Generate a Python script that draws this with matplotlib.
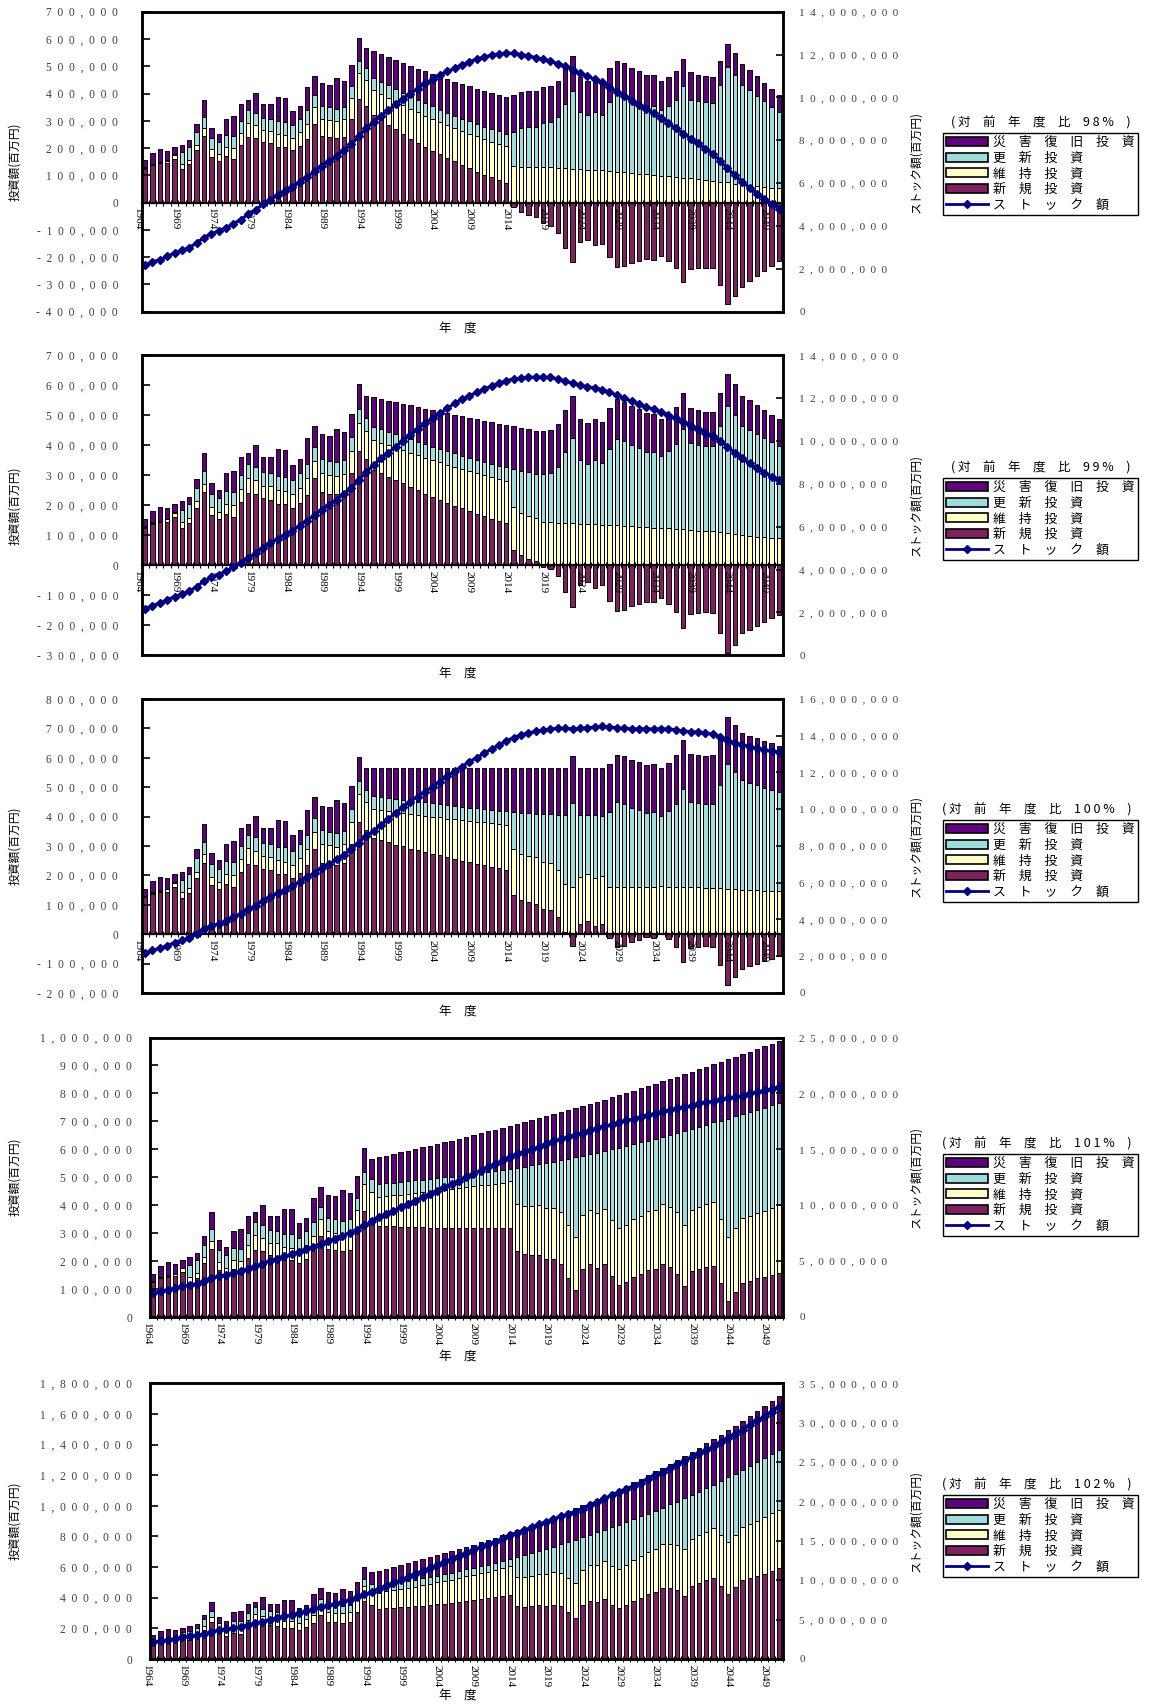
import numpy as np
import matplotlib
matplotlib.use('Agg')
import matplotlib.pyplot as plt
from matplotlib.patches import Patch
from matplotlib.lines import Line2D

JP = ['Noto Sans CJK JP', 'DejaVu Sans']
NUM = 'Liberation Serif'

# ---- actual values 1965-1995 (same in every scenario), bars in thousand 百万円 ----
hist_new = [125, 138, 144, 145, 161, 124, 140, 192, 243, 168, 153, 171, 161, 210, 240,
            237, 223, 217, 204, 204, 192, 209, 235, 290, 243, 239, 237, 241, 308, 380, 354]
hist_maint = [3, 3, 3, 8, 14, 19, 17, 21, 29, 27, 24, 33, 40, 46, 52,
              47, 42, 46, 47, 43, 45, 50, 55, 59, 65, 63, 61, 65, 74, 96, 94]
hist_renew = [2, 2, 2, 2, 2, 42, 47, 45, 42, 43, 46, 44, 44, 44, 47,
              45, 46, 45, 47, 49, 47, 48, 49, 45, 46, 47, 47, 45, 45, 44, 44]
hist_disaster = [25, 39, 46, 36, 27, 28, 24, 31, 61, 37, 28, 60, 71, 61, 36,
                 73, 49, 54, 90, 89, 52, 48, 85, 72, 83, 83, 111, 94, 77, 83, 74]
# stock in million 百万円
hist_stock = [2.16, 2.32, 2.43, 2.58, 2.74, 2.86, 2.99, 3.21, 3.46, 3.64, 3.77, 3.92, 4.11, 4.30, 4.55,
              4.76, 5.01, 5.23, 5.43, 5.62, 5.82, 6.04, 6.29, 6.55, 6.80, 7.02, 7.27, 7.53, 7.81, 8.19, 8.55]

# renewal 1996-2044 is the same in all scenarios
renew_1996_2044 = [45, 45, 45, 45, 45, 45, 45, 45, 45, 45, 45, 45, 45, 45, 45, 45, 45, 45, 46,
                   127, 140, 146, 147, 163, 166, 187, 237, 285, 211, 199, 215, 205, 254, 287, 282,
                   269, 262, 251, 253, 239, 257, 284, 335, 289, 286, 284, 286, 353, 424]

# ---- scenario 98% (1996-2051) ----
new_98 = [321, 303, 286, 269, 252, 235, 219, 204, 191, 177, 164, 151, 138, 126, 114, 103, 93, 84, 73,
          -15, -35, -47, -53, -76, -85, -110, -166, -216, -146, -138, -157, -151, -201, -236, -233,
          -220, -215, -205, -210, -195, -214, -241, -291, -245, -241, -239, -240, -303, -372,
          -343, -308, -288, -269, -250, -231, -213]
maint_98 = [92, 96, 99, 102, 106, 109, 112, 115, 117, 119, 121, 123, 125, 127, 129, 130, 131, 132, 134,
            133, 132, 131, 130, 130, 129, 127, 126, 124, 122, 121, 119, 118, 115, 113, 111, 108, 106,
            104, 102, 99, 97, 94, 91, 89, 86, 84, 81, 77, 74, 70, 67, 64, 61, 58, 55, 53]
renew_98_tail = [398, 366, 348, 331, 314, 297, 280]
disaster_98 = [97, 100, 103, 106, 109, 112, 115, 117, 119, 121, 123, 125, 127, 128, 130, 131, 132, 132, 133,
               133, 133, 133, 132, 132, 132, 131, 131, 129, 128, 127, 126, 125, 123, 121, 119, 117, 115,
               113, 112, 109, 107, 105, 102, 100, 97, 95, 92, 88, 84, 81, 77, 74, 71, 68, 65, 63]
stock_98 = [8.86, 9.12, 9.40, 9.67, 9.93, 10.18, 10.41, 10.65, 10.85, 11.04, 11.21, 11.36, 11.52, 11.66,
            11.79, 11.89, 11.97, 12.03, 12.07, 12.05, 12.00, 11.94, 11.86, 11.79, 11.69, 11.58, 11.46,
            11.27, 11.12, 10.99, 10.85, 10.70, 10.49, 10.27, 10.06, 9.85, 9.65, 9.45, 9.25, 9.03, 8.81,
            8.56, 8.31, 8.08, 7.85, 7.61, 7.38, 7.04, 6.69, 6.37, 6.06, 5.79, 5.51, 5.26, 5.04, 4.81]

# ---- scenario 99% ----
new_99 = [319, 308, 296, 285, 273, 262, 251, 239, 228, 219, 208, 199, 190, 181, 172, 163, 156, 147, 141,
          52, 34, 22, 16, -4, -12, -35, -88, -138, -66, -56, -75, -67, -118, -153, -148, -137, -130,
          -121, -123, -110, -128, -157, -208, -161, -158, -156, -159, -224, -292,
          -264, -227, -215, -201, -189, -176, -165]
maint_99 = [98, 101, 104, 107, 110, 113, 116, 119, 122, 124, 127, 129, 131, 133, 135, 137, 138, 140, 141,
            142, 142, 143, 143, 143, 143, 142, 141, 140, 139, 138, 137, 136, 135, 134, 132, 131, 129,
            128, 126, 125, 123, 122, 120, 118, 116, 114, 113, 110, 107, 104, 101, 99, 96, 94, 92, 90]
renew_99_tail = [398, 364, 353, 341, 330, 318, 307]
disaster_99 = [98, 101, 104, 107, 110, 113, 116, 119, 122, 124, 127, 129, 131, 133, 135, 137, 138, 140, 141,
               142, 142, 143, 143, 143, 143, 142, 141, 140, 139, 138, 137, 136, 135, 134, 132, 131, 129,
               128, 126, 125, 123, 122, 120, 118, 116, 114, 113, 110, 107, 104, 101, 99, 96, 94, 92, 90]
stock_99 = [8.88, 9.19, 9.46, 9.74, 10.02, 10.28, 10.56, 10.83, 11.06, 11.29, 11.53, 11.76, 11.95, 12.12,
            12.27, 12.43, 12.57, 12.69, 12.82, 12.90, 12.94, 12.97, 12.99, 12.99, 12.97, 12.91, 12.80,
            12.69, 12.62, 12.54, 12.48, 12.40, 12.29, 12.15, 11.99, 11.87, 11.74, 11.60, 11.48, 11.36,
            11.22, 11.06, 10.87, 10.70, 10.55, 10.39, 10.24, 10.02, 9.74, 9.46, 9.19, 8.96, 8.73, 8.52,
            8.34, 8.18]

# ---- scenario 100% ----
new_100 = [327, 320, 313, 305, 299, 291, 286, 280, 274, 268, 261, 256, 250, 244, 240, 234, 229, 224, 219,
           133, 116, 108, 104, 86, 81, 59, 9, -39, 34, 44, 28, 35, -12, -45, -40, -26, -20, -9, -12,
           2, -16, -43, -93, -47, -43, -41, -42, -106, -174, -145, -117, -108, -100, -90, -83, -74]
maint_100 = [99, 102, 106, 110, 113, 117, 120, 123, 126, 129, 132, 135, 138, 141, 143, 146, 149, 151, 154,
             156, 157, 158, 159, 160, 161, 161, 161, 161, 161, 162, 162, 163, 162, 162, 161, 161, 161,
             161, 161, 161, 161, 160, 160, 159, 159, 158, 158, 156, 154, 153, 151, 150, 149, 148, 148, 147]
renew_100_tail = [398, 372, 365, 358, 350, 344, 336]
disaster_100 = [95, 99, 102, 106, 109, 113, 115, 118, 121, 124, 128, 130, 133, 136, 138, 141, 143, 146, 148,
                150, 153, 154, 156, 157, 158, 159, 159, 159, 160, 161, 161, 163, 162, 162, 163, 162, 163,
                163, 164, 164, 164, 165, 164, 165, 164, 165, 164, 163, 162, 160, 160, 159, 159, 158, 157, 157]
stock_100 = [8.82, 9.14, 9.47, 9.80, 10.12, 10.42, 10.69, 10.96, 11.23, 11.50, 11.81, 12.08, 12.32, 12.59,
             12.81, 13.04, 13.28, 13.49, 13.71, 13.90, 14.04, 14.15, 14.24, 14.31, 14.37, 14.40, 14.40,
             14.37, 14.40, 14.44, 14.47, 14.51, 14.47, 14.44, 14.40, 14.38, 14.37, 14.37, 14.37, 14.37,
             14.37, 14.33, 14.26, 14.22, 14.19, 14.15, 14.08, 13.95, 13.77, 13.62, 13.50, 13.41, 13.31,
             13.23, 13.17, 13.10]

# ---- scenario 101% ----
new_101 = [327, 325, 324, 323, 323, 322, 321, 320, 320, 319, 318, 318, 318, 318, 318, 317, 317, 317, 318,
           235, 225, 221, 223, 208, 206, 188, 141, 96, 173, 189, 174, 188, 145, 115, 124, 143, 154, 168,
           171, 190, 178, 155, 110, 163, 171, 179, 184, 121, 57, 90, 122, 129, 138, 143, 151, 158]
maint_101 = [104, 108, 111, 115, 118, 122, 125, 129, 132, 136, 139, 143, 146, 150, 153, 157, 160, 164, 167,
             171, 173, 176, 178, 181, 184, 186, 188, 191, 193, 195, 198, 200, 201, 204, 206, 207, 209,
             212, 213, 215, 216, 219, 220, 221, 223, 225, 226, 228, 229, 230, 232, 234, 235, 238, 239, 241]
renew_101_tail = [398, 372, 370, 369, 368, 368, 367]
disaster_101 = [96, 99, 103, 106, 109, 112, 116, 119, 122, 125, 129, 132, 135, 138, 141, 145, 148, 151, 154,
                158, 160, 162, 164, 167, 170, 172, 174, 176, 178, 180, 183, 185, 186, 188, 190, 191, 193,
                195, 197, 199, 200, 202, 203, 204, 206, 207, 208, 211, 212, 213, 214, 216, 217, 219, 220, 222]
stock_101 = [8.9, 9.2, 9.5, 9.8, 10.1, 10.4, 10.7, 11.0, 11.3, 11.6, 11.9, 12.2, 12.5, 12.8, 13.1, 13.4,
             13.7, 14.0, 14.3, 14.6, 14.8, 15.0, 15.2, 15.5, 15.7, 15.9, 16.1, 16.3, 16.5, 16.7, 16.9,
             17.1, 17.2, 17.4, 17.6, 17.7, 17.9, 18.1, 18.2, 18.4, 18.5, 18.7, 18.8, 18.9, 19.1, 19.2,
             19.3, 19.5, 19.6, 19.7, 19.8, 20.0, 20.1, 20.3, 20.4, 20.6]

# ---- scenario 102% ----
new_102 = [327, 330, 335, 338, 341, 343, 348, 353, 357, 362, 367, 372, 379, 384, 391, 396, 405, 411, 419,
           346, 341, 345, 353, 347, 353, 344, 306, 270, 355, 377, 373, 393, 355, 336, 353, 380, 401, 423,
           436, 463, 462, 448, 414, 475, 494, 514, 529, 479, 426, 468, 513, 527, 540, 557, 574, 592]
maint_102 = [107, 112, 115, 120, 125, 130, 134, 138, 143, 148, 152, 157, 161, 166, 170, 175, 179, 184, 188,
             192, 197, 200, 205, 209, 214, 217, 221, 224, 229, 234, 239, 245, 250, 254, 259, 264, 269,
             275, 280, 286, 290, 296, 301, 307, 313, 318, 324, 330, 336, 343, 349, 356, 364, 370, 377, 384]
renew_102_tail = [398, 372, 375, 380, 383, 386, 388]
disaster_102 = [98, 102, 106, 110, 114, 119, 123, 127, 131, 135, 140, 144, 147, 152, 156, 161, 164, 168, 173,
                176, 180, 184, 188, 191, 196, 199, 202, 206, 210, 215, 219, 224, 229, 233, 238, 242, 246,
                252, 256, 262, 266, 272, 276, 282, 287, 292, 297, 303, 308, 315, 320, 327, 333, 339, 345, 352]
stock_102 = [8.9, 9.3, 9.6, 10.0, 10.4, 10.8, 11.2, 11.5, 11.9, 12.3, 12.7, 13.1, 13.4, 13.8, 14.2, 14.6,
             14.9, 15.3, 15.7, 16.0, 16.4, 16.7, 17.1, 17.4, 17.8, 18.1, 18.4, 18.7, 19.1, 19.5, 19.9,
             20.4, 20.8, 21.2, 21.6, 22.0, 22.4, 22.9, 23.3, 23.8, 24.2, 24.7, 25.1, 25.6, 26.1, 26.5,
             27.0, 27.5, 28.0, 28.6, 29.1, 29.7, 30.3, 30.8, 31.4, 32.0]

years = np.arange(1965, 2052)
label_years = list(range(1964, 2050, 5))
legend_labels = ['災　害　復　旧　投　資', '更　新　投　資', '維　持　投　資', '新　規　投　資', 'ス　ト　ッ　ク　額']

c_dis = '#600080'
c_ren = '#9FDCDC'
c_mnt = '#FFFFC8'
c_new = '#802060'
c_line = '#000080'
c_tick = '#404040'

W, H = 1152, 1704
fig = plt.figure(figsize=(W / 100, H / 100), dpi=100)

panels = [
    dict(rate='9 8', new=new_98, maint=maint_98, tail=renew_98_tail, dis=disaster_98, stock=stock_98,
         box=(141.7, 11.7, 782.7, 311.7), ylim=(-400000, 700000), ystep=100000, rmax=14000000, rstep=2000000,
         xlab=328, leg=133, pad=17, tx=951),
    dict(rate='9 9', new=new_99, maint=maint_99, tail=renew_99_tail, dis=disaster_99, stock=stock_99,
         box=(141.7, 355.4, 782.7, 655.3), ylim=(-300000, 700000), ystep=100000, rmax=14000000, rstep=2000000,
         xlab=673, leg=478, pad=17, tx=951),
    dict(rate='1 0 0', new=new_100, maint=maint_100, tail=renew_100_tail, dis=disaster_100, stock=stock_100,
         box=(141.7, 699, 782.7, 993), ylim=(-200000, 800000), ystep=100000, rmax=16000000, rstep=2000000,
         xlab=1011, leg=820, pad=17, tx=942),
    dict(rate='1 0 1', new=new_101, maint=maint_101, tail=renew_101_tail, dis=disaster_101, stock=stock_101,
         box=(150, 1037.5, 782.7, 1317), ylim=(0, 1000000), ystep=100000, rmax=25000000, rstep=5000000,
         xlab=1356, leg=1154, pad=13, tx=942),
    dict(rate='1 0 2', new=new_102, maint=maint_102, tail=renew_102_tail, dis=disaster_102, stock=stock_102,
         box=(150, 1383.3, 782.7, 1659), ylim=(0, 1800000), ystep=200000, rmax=35000000, rstep=5000000,
         xlab=1695, leg=1495, pad=13, tx=942),
]


def spaced(v):
    # excel-style wide letter spacing, e.g. "7  0  0  ,  0  0  0"
    return '  '.join(f'{int(v):,}')


for p in panels:
    l, t, r, b = p['box']
    ax = fig.add_axes([l / W, 1 - b / H, (r - l) / W, (b - t) / H])

    new = np.array(hist_new + p['new']) * 1000
    maint = np.array(hist_maint + p['maint']) * 1000
    renew = np.array(hist_renew + renew_1996_2044 + p['tail']) * 1000
    dis = np.array(hist_disaster + p['dis']) * 1000
    stock = np.array(hist_stock + p['stock']) * 1e6

    base = np.maximum(new, 0)
    kw = dict(width=0.6, edgecolor='black', linewidth=0.7)
    ax.bar(years, new, color=c_new, **kw)
    ax.bar(years, maint, bottom=base, color=c_mnt, **kw)
    ax.bar(years, renew, bottom=base + maint, color=c_ren, **kw)
    ax.bar(years, dis, bottom=base + maint + renew, color=c_dis, **kw)

    lo, hi = p['ylim']
    ax.set_xlim(1964.55, 2051.5)
    ax.set_ylim(lo, hi)
    yt = np.arange(lo, hi + 1, p['ystep'])
    ax.set_yticks(yt)
    ax.set_yticklabels([spaced(v) for v in yt], fontfamily=NUM, fontsize=8.3, color=c_tick)
    ax.tick_params(axis='y', direction='in', length=6, width=1.2, pad=p['pad'])
    ax.set_xticks([])
    for s in ax.spines.values():
        s.set_linewidth(1.8)

    # category axis sitting on zero
    zf = (0 - lo) / (hi - lo)
    sec = ax.secondary_xaxis(zf)
    sec.set_xticks(np.arange(1964.5, 2052, 1.0))
    sec.tick_params(axis='x', direction='inout', length=4, width=0.8, labelbottom=False)
    sec.spines['bottom'].set_linewidth(1.6)
    sec.set_zorder(3)
    for yr in label_years:
        ax.annotate(str(yr), (yr, 0), xytext=(0, -4), textcoords='offset points', rotation=-90,
                    ha='center', va='top', fontsize=8, fontfamily=NUM, annotation_clip=False)

    ax2 = ax.twinx()
    ax2.plot(years, stock, color=c_line, lw=2.2, marker='D', ms=4.2)
    ax2.set_ylim(0, p['rmax'])
    rt = np.arange(0, p['rmax'] + 1, p['rstep'])
    ax2.set_yticks(rt)
    ax2.set_yticklabels([spaced(v) for v in rt], fontfamily=NUM, fontsize=8.0, color=c_tick)
    ax2.tick_params(axis='y', direction='in', length=5, width=1.2, pad=12)
    for s in ax2.spines.values():
        s.set_linewidth(1.8)

    cy = 1 - (t + b) / 2 / H
    fig.text(15 / W, cy, '投資額(百万円)', rotation=90, ha='center', va='center', fontsize=8.5, fontfamily=JP)
    fig.text(916 / W, cy, 'ストック額(百万円)', rotation=90, ha='center', va='center', fontsize=8.5, fontfamily=JP)
    fig.text(458 / W, 1 - p['xlab'] / H, '年　度', ha='center', va='center', fontsize=9, fontfamily=JP)

    fig.text(p['tx'] / W, 1 - (p['leg'] - 10) / H, '( 対　前　年　度　比　' + p['rate'] + ' %　)',
             ha='left', va='center', fontsize=9, fontfamily=JP)
    handles = [Patch(facecolor=c_dis, edgecolor='black', lw=1.2),
               Patch(facecolor=c_ren, edgecolor='black', lw=1.2),
               Patch(facecolor=c_mnt, edgecolor='black', lw=1.2),
               Patch(facecolor=c_new, edgecolor='black', lw=1.2),
               Line2D([], [], color=c_line, lw=2, marker='D', ms=4.5)]
    leg = fig.legend(handles, legend_labels, loc='upper left', bbox_to_anchor=(943 / W, 1 - p['leg'] / H),
                     prop={'family': JP, 'size': 9.3}, frameon=True, fancybox=False, edgecolor='black',
                     framealpha=1, borderpad=0.25, handlelength=3.2, handleheight=0.7, handletextpad=0.4,
                     labelspacing=0.2, borderaxespad=0)
    leg.get_frame().set_linewidth(1.0)

fig.savefig('out.png', dpi=100)
